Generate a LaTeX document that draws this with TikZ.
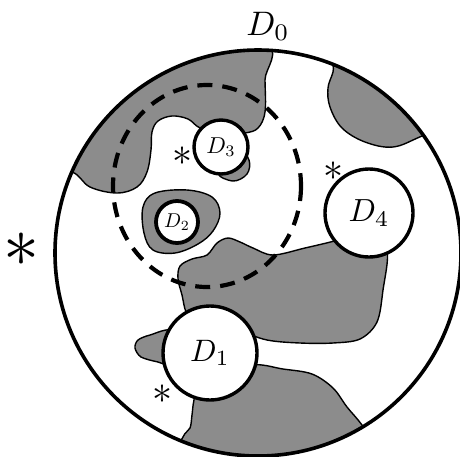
\documentclass[tikz,border=0pt]{standalone}
\usepackage{fix-cm}
\usepackage{graphicx}
\usetikzlibrary{positioning}

\newcommand{\dlabel}[2]{\scalebox{#1}{$D_{#2}$}}

\begin{document}
\begin{tikzpicture}[x=1pt, y=-1pt,
    disk/.style={circle, draw, fill=white, line width=3.4pt, inner sep=0pt},
    region/.style={draw, fill=black!45, line width=1.4pt},
    ring/.style={line width=4.2pt, dash pattern=on 15pt off 10pt},
    star/.style={font=\fontsize{40}{40}\selectfont}]
  \useasboundingbox (0,0) rectangle (460,456);

  % shaded parts, cut to the outer disc
  \begin{scope}
    \clip (258,253) circle (203);
    \path[region] plot[smooth cycle, tension=0.6] coordinates {
      (40,170) (72,172) (90,187) (117,193) (137,187) (147,172) (151,150)
      (152,132) (158,121) (172,116) (188,119) (200,128) (222,135) (245,133)
      (258,128) (265,112) (265,80) (264,40) (150,10) (30,80)};
    \path[region] plot[smooth cycle, tension=0.6] coordinates {
      (340,45) (333,72) (328,88) (330,107) (342,128) (365,142) (393,147)
      (422,136) (470,115) (410,30)};
    \path[region] plot[smooth cycle, tension=0.55] coordinates {
      (387,250) (383,290) (377,322) (360,339) (333,343) (300,343) (267,340)
      (235,330) (195,325) (186,312) (182,295) (178,279) (180,266) (192,259)
      (207,255) (217,243) (228,238) (240,242) (253,248) (273,255) (305,248)
      (338,240) (369,230)};
    \path[region] plot[smooth cycle, tension=0.55] coordinates {
      (200,380) (250,365) (283,369) (312,374) (333,388) (347,407) (362,425)
      (395,470) (250,490) (175,465) (183,437) (190,428) (192,415) (194,400)};
  \end{scope}
  \path[region] plot[smooth cycle, tension=0.6] coordinates {
    (143,207) (155,193) (187,190) (212,197) (220,213) (213,231) (198,244)
    (175,253) (153,250) (144,233)};
  \path[region] plot[smooth cycle, tension=0.6] coordinates {
    (218,172) (233,181) (247,174) (249,160) (238,150)};
  \path[region] plot[smooth cycle, tension=0.5] coordinates {
    (172,331) (150,335) (138,340) (135,348) (141,357) (158,362) (172,364)};

  % dashed ring
  \draw[ring] (207,186) ellipse (94 and 101);

  \node[draw, circle, line width=3.6pt, minimum size=406pt, inner sep=0pt] (d0) at (258,253) {};
  \node (l0) at (268,26) {\dlabel{3.4}{0}};

  \node[disk, minimum size=94pt] (d1) at (210,353) {\dlabel{3.1}{1}};
  \node[disk, minimum size=42pt, line width=3.8pt] (d2) at (177,222) {\dlabel{2.0}{2}};
  \node[disk, minimum size=54pt] (d3) at (221,147) {\dlabel{2.3}{3}};
  \node[disk, minimum size=88pt] (d4) at (369,213) {\dlabel{3.2}{4}};

  \node[font=\fontsize{72}{72}\selectfont] (s0) at (22,250) {$\ast$};
  \node[star] (s1) at (162,394) {$\ast$};
  \node[star] (s3) at (182,156) {$\ast$};
  \node[star] (s4) at (333,171) {$\ast$};
\end{tikzpicture}
\end{document}
